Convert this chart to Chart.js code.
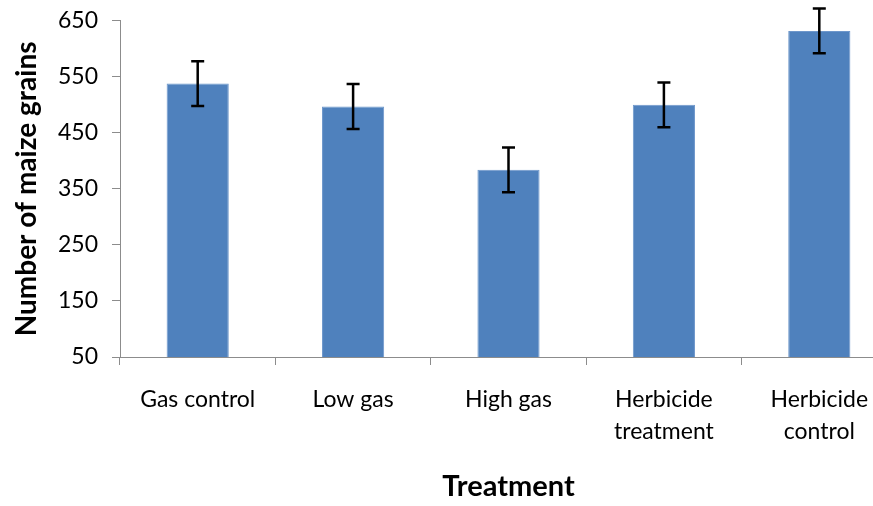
<!DOCTYPE html>
<html>
<head>
<meta charset="utf-8">
<script src="https://cdn.jsdelivr.net/npm/chart.js@4"></script>
<style>
  html, body { margin: 0; padding: 0; background: #fff; overflow: hidden; }
  #wrap { position: absolute; left: 0; top: -7px; width: 900px; height: 513px; }
</style>
</head>
<body>
<div id="wrap"><canvas id="grainChart"></canvas></div>
<script>
// data
const treatments = ['Gas control', 'Low gas', 'High gas', ['Herbicide', 'treatment'], ['Herbicide', 'control']];
const grainMeans = [538, 497, 384, 500, 632];
const grainErrors = [40, 40, 40, 40, 40];
const yTicks = [50, 150, 250, 350, 450, 550, 650];

const fontFamily = 'Lato, "Open Sans", sans-serif';

// draw the black error bars with caps on top of each bar
const errorBars = {
    id: 'errorBars',
    afterDatasetsDraw(chart) {
        const ctx = chart.ctx;
        const y = chart.scales.y;
        const meta = chart.getDatasetMeta(0);
        ctx.save();
        ctx.strokeStyle = '#000';
        ctx.lineWidth = 2.5;
        meta.data.forEach((bar, i) => {
            const top = y.getPixelForValue(grainMeans[i] + grainErrors[i]);
            const bottom = y.getPixelForValue(grainMeans[i] - grainErrors[i]);
            const x = bar.x;
            ctx.beginPath();
            ctx.moveTo(x, top);
            ctx.lineTo(x, bottom);
            ctx.moveTo(x - 6.5, top);
            ctx.lineTo(x + 6.5, top);
            ctx.moveTo(x - 6.5, bottom);
            ctx.lineTo(x + 6.5, bottom);
            ctx.stroke();
        });
        ctx.restore();
    }
};

const ctx = document.getElementById('grainChart').getContext('2d');

new Chart(ctx, {
    type: 'bar',
    data: {
        labels: treatments,
        datasets: [{
            label: 'Number of maize grains',
            data: grainMeans,
            backgroundColor: '#4F81BD',
            borderColor: '#6E97CB',
            borderWidth: 1,
            categoryPercentage: 1,
            barPercentage: 0.4
        }]
    },
    options: {
        responsive: true,
        maintainAspectRatio: false,
        animation: false,
        layout: { padding: { top: 13, right: 3, left: 0, bottom: 0 } },
        plugins: {
            legend: { display: false },
            tooltip: { enabled: false }
        },
        scales: {
            x: {
                afterFit: (scale) => { scale.height = 149; },
                grid: { drawOnChartArea: false, drawTicks: true, tickLength: 8, color: '#8c8c8c' },
                border: { display: true, color: '#8c8c8c', width: 1 },
                ticks: {
                    color: '#000',
                    padding: 18,
                    maxRotation: 0,
                    font: { family: fontFamily, size: 23, lineHeight: 1.4 }
                },
                title: {
                    display: true,
                    text: 'Treatment',
                    color: '#000',
                    padding: { top: 0, bottom: 2 },
                    font: { family: fontFamily, size: 29, weight: 'bold' }
                }
            },
            y: {
                min: 50,
                max: 650,
                afterFit: (scale) => { scale.width = 120; },
                afterBuildTicks: (scale) => { scale.ticks = yTicks.map(v => ({ value: v })); },
                grid: { drawOnChartArea: false, drawTicks: true, tickLength: 8, color: '#8c8c8c' },
                border: { display: true, color: '#8c8c8c', width: 1 },
                ticks: {
                    color: '#000',
                    padding: 14,
                    font: { family: fontFamily, size: 23 }
                },
                title: {
                    display: true,
                    text: 'Number of maize grains',
                    color: '#000',
                    padding: { top: 10, bottom: 0 },
                    font: { family: fontFamily, size: 28, weight: 'bold' }
                }
            }
        }
    },
    plugins: [errorBars]
});
</script>
</body>
</html>
